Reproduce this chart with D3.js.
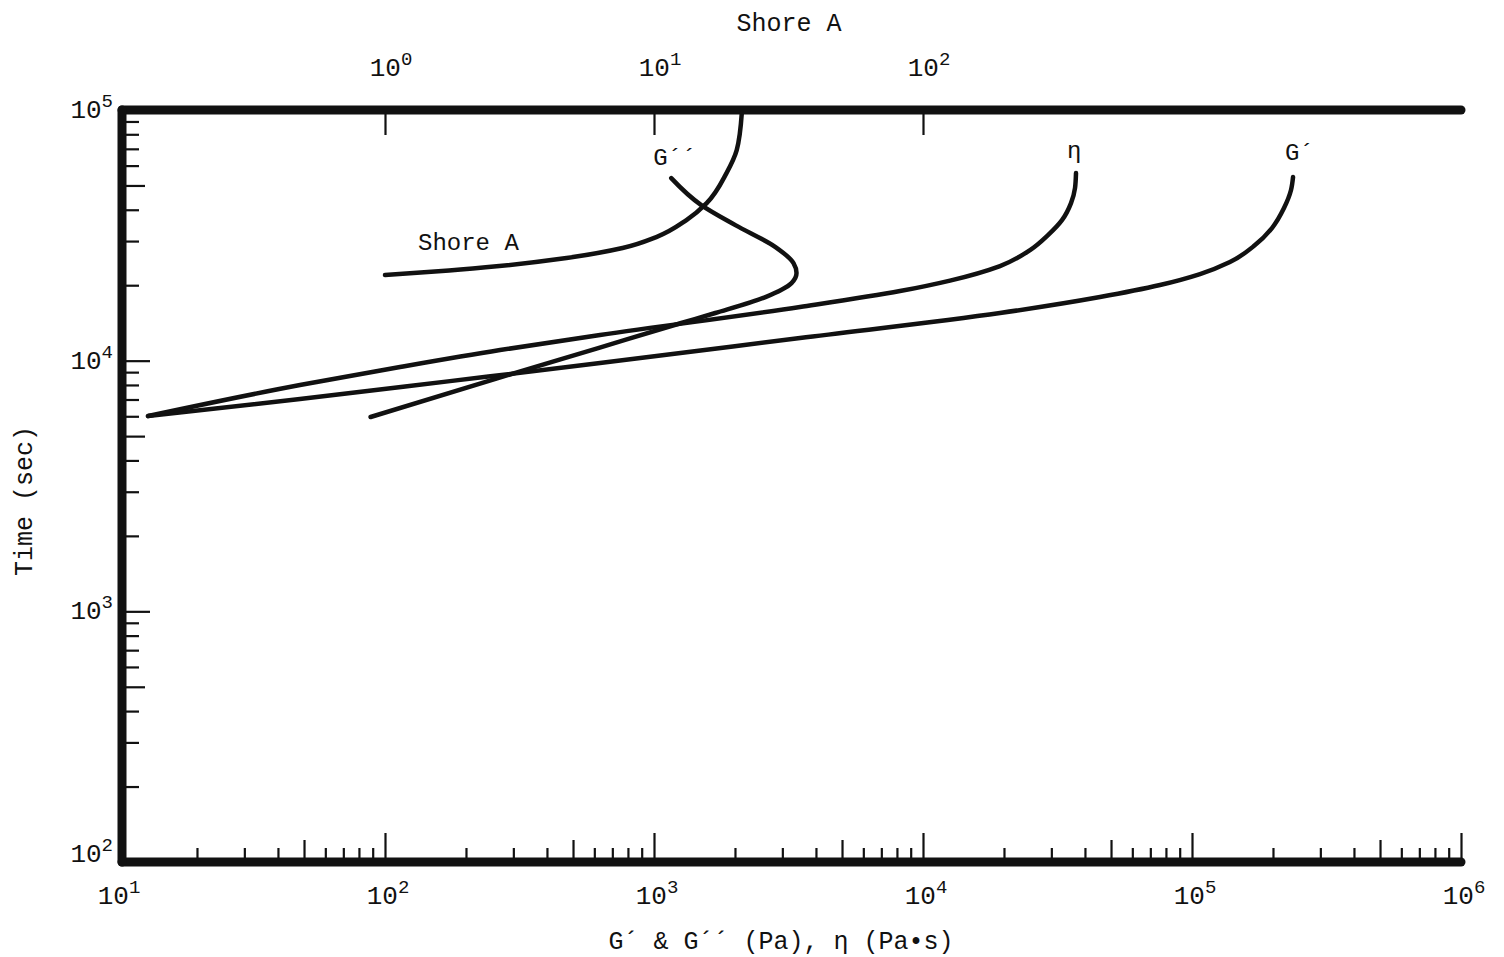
<!DOCTYPE html>
<html><head><meta charset="utf-8">
<script src="https://cdn.jsdelivr.net/npm/d3@7"></script>
<style>
body{margin:0;background:#fff}
svg{display:block}
text{font-family:"Liberation Mono","DejaVu Sans Mono",monospace;fill:#111}
</style>
</head><body>
<svg id="c" width="1504" height="957"></svg>
<script>
// ---- data ----
// Storage modulus G' (Pa) vs time (s)
const gPrimeX = [13.15, 48.3, 174.4, 630, 3489, 19330, 45500, 76030, 107100, 138400, 171500, 198300, 219800, 233400, 237500];
const gPrimeT = [6010, 7028, 8287, 9782, 12310, 15490, 17940, 20030, 22150, 24740, 28910, 33810, 40620, 47930, 54000];
// Loss modulus G'' (Pa) vs time (s)
const gDblX = [1159, 1499, 2007, 2829, 3301, 3387, 3245, 2596, 1690, 1263, 620, 263, 88.4];
const gDblT = [53500, 41760, 34740, 28390, 24510, 22360, 20390, 17940, 15490, 14130, 11230, 8520, 5960];
// Viscosity eta (Pa·s) vs time (s)
const etaX = [13.15, 48.3, 113.7, 267.7, 630, 3489, 8212, 12600, 19330, 25000, 29150, 32860, 35500, 36740, 37050];
const etaT = [6010, 7992, 9430, 11020, 12660, 16370, 18950, 20870, 23850, 27620, 31700, 36370, 42530, 48820, 56010];
// Shore A hardness vs time (s)
const shoreX = [1.0, 1.73, 2.66, 4.73, 7.64, 10.2, 13.2, 15.7, 18.6, 20.3, 21.2];
const shoreT = [21950, 22880, 23850, 25670, 28140, 31120, 36370, 42530, 56010, 69180, 97190];

const xTickExps = [1, 2, 3, 4, 5, 6];
const yTickExps = [2, 3, 4, 5];
const shoreTickExps = [0, 1, 2];
const curveLabels = ["G´´", "η", "G´", "Shore A"];

// ---- scales ----
const svg = d3.select("#c");
const x = d3.scaleLog().domain([10, 1e6]).range([116, 1461]);
const xs = d3.scaleLog().domain([0.1, 1e4]).range([116, 1461]);
const y = d3.scaleLog().domain([100, 1e5]).range([862, 110]);
const AX = 122; // left axis line position

const firstDigit = v => Math.round(v / Math.pow(10, Math.floor(Math.log10(v) + 1e-9)));
function tickAxis(axisFn, scale, vals, size, tr) {
  const g = svg.append("g").attr("transform", tr)
    .call(axisFn(scale).tickValues(vals).tickSize(size).tickFormat(""));
  g.select(".domain").remove();
  g.selectAll(".tick line").attr("stroke", "#111").attr("stroke-width", 2.2);
}

// bottom ticks
const xt = x.ticks().filter(v => v > 10.5);
tickAxis(d3.axisBottom, x, xt.filter(v => firstDigit(v) !== 1 && firstDigit(v) !== 5), -14, "translate(0,862)");
tickAxis(d3.axisBottom, x, xt.filter(v => firstDigit(v) === 5), -22, "translate(0,862)");
tickAxis(d3.axisBottom, x, xt.filter(v => firstDigit(v) === 1), -29, "translate(0,862)");

// left ticks
const yt = y.ticks().filter(v => v > 101 && v < 99000);
tickAxis(d3.axisLeft, y, yt.filter(v => firstDigit(v) !== 1 && firstDigit(v) !== 5), -17, `translate(${AX},0)`);
tickAxis(d3.axisLeft, y, yt.filter(v => firstDigit(v) === 5), -23, `translate(${AX},0)`);
tickAxis(d3.axisLeft, y, yt.filter(v => firstDigit(v) === 1), -28, `translate(${AX},0)`);

// top (Shore A) ticks
tickAxis(d3.axisTop, xs, shoreTickExps.map(e => Math.pow(10, e)), -25, "translate(0,110)");

// axis frame lines
const frame = svg.append("g").attr("stroke", "#111").attr("stroke-width", 9).attr("stroke-linecap", "round");
frame.append("line").attr("x1", AX).attr("x2", x(1e6)).attr("y1", y(1e5)).attr("y2", y(1e5));
frame.append("line").attr("x1", AX).attr("x2", x(1e6)).attr("y1", y(100)).attr("y2", y(100));
frame.append("line").attr("x1", AX).attr("x2", AX).attr("y1", y(1e5)).attr("y2", y(100));

// tick labels
function powLabel(g, e, px, py, anchor) {
  const t = g.append("text").attr("x", px).attr("y", py).attr("text-anchor", anchor).attr("font-size", 26);
  t.append("tspan").text("10");
  t.append("tspan").attr("dy", -11).attr("font-size", 19).text(e);
}
const lab = svg.append("g");
xTickExps.forEach(e => powLabel(lab, e, x(Math.pow(10, e)) + 3, 904, "middle"));
yTickExps.forEach(e => powLabel(lab, e, 113, y(Math.pow(10, e)) + (e === 2 ? 0 : 8), "end"));
shoreTickExps.forEach(e => powLabel(lab, e, xs(Math.pow(10, e)) + 6, 76, "middle"));

// axis titles
svg.append("text").attr("x", 789).attr("y", 31).attr("text-anchor", "middle").attr("font-size", 25).text("Shore A");
svg.append("text").attr("x", 781).attr("y", 949).attr("text-anchor", "middle").attr("font-size", 25)
  .text("G´ & G´´ (Pa), η (Pa•s)");
svg.append("text").attr("transform", "translate(32,501) rotate(-90)").attr("text-anchor", "middle")
  .attr("font-size", 25).text("Time (sec)");

// curves (all are monotone in time)
const line = d3.line().curve(d3.curveMonotoneY);
const curves = svg.append("g").attr("fill", "none").attr("stroke", "#111")
  .attr("stroke-width", 4.5).attr("stroke-linecap", "round").attr("stroke-linejoin", "round");
const seriesList = [
  [gPrimeX, gPrimeT, x],
  [gDblX, gDblT, x],
  [etaX, etaT, x],
  [shoreX, shoreT, xs]
];
seriesList.forEach(([xv, tv, sc]) => {
  curves.append("path").attr("d", line(xv.map((v, i) => [sc(v), y(tv[i])])));
});

// curve labels
const cl = svg.append("g").attr("font-size", 24);
cl.append("text").attr("x", x(gDblX[0]) - 18).attr("y", 165).text(curveLabels[0]);
cl.append("text").attr("x", x(etaX[etaX.length - 1]) - 9).attr("y", 158).text(curveLabels[1]);
cl.append("text").attr("x", x(gPrimeX[gPrimeX.length - 1]) - 8).attr("y", 160).text(curveLabels[2]);
cl.append("text").attr("x", xs(shoreX[0]) + 33).attr("y", 250).text(curveLabels[3]);
</script>
</body></html>
